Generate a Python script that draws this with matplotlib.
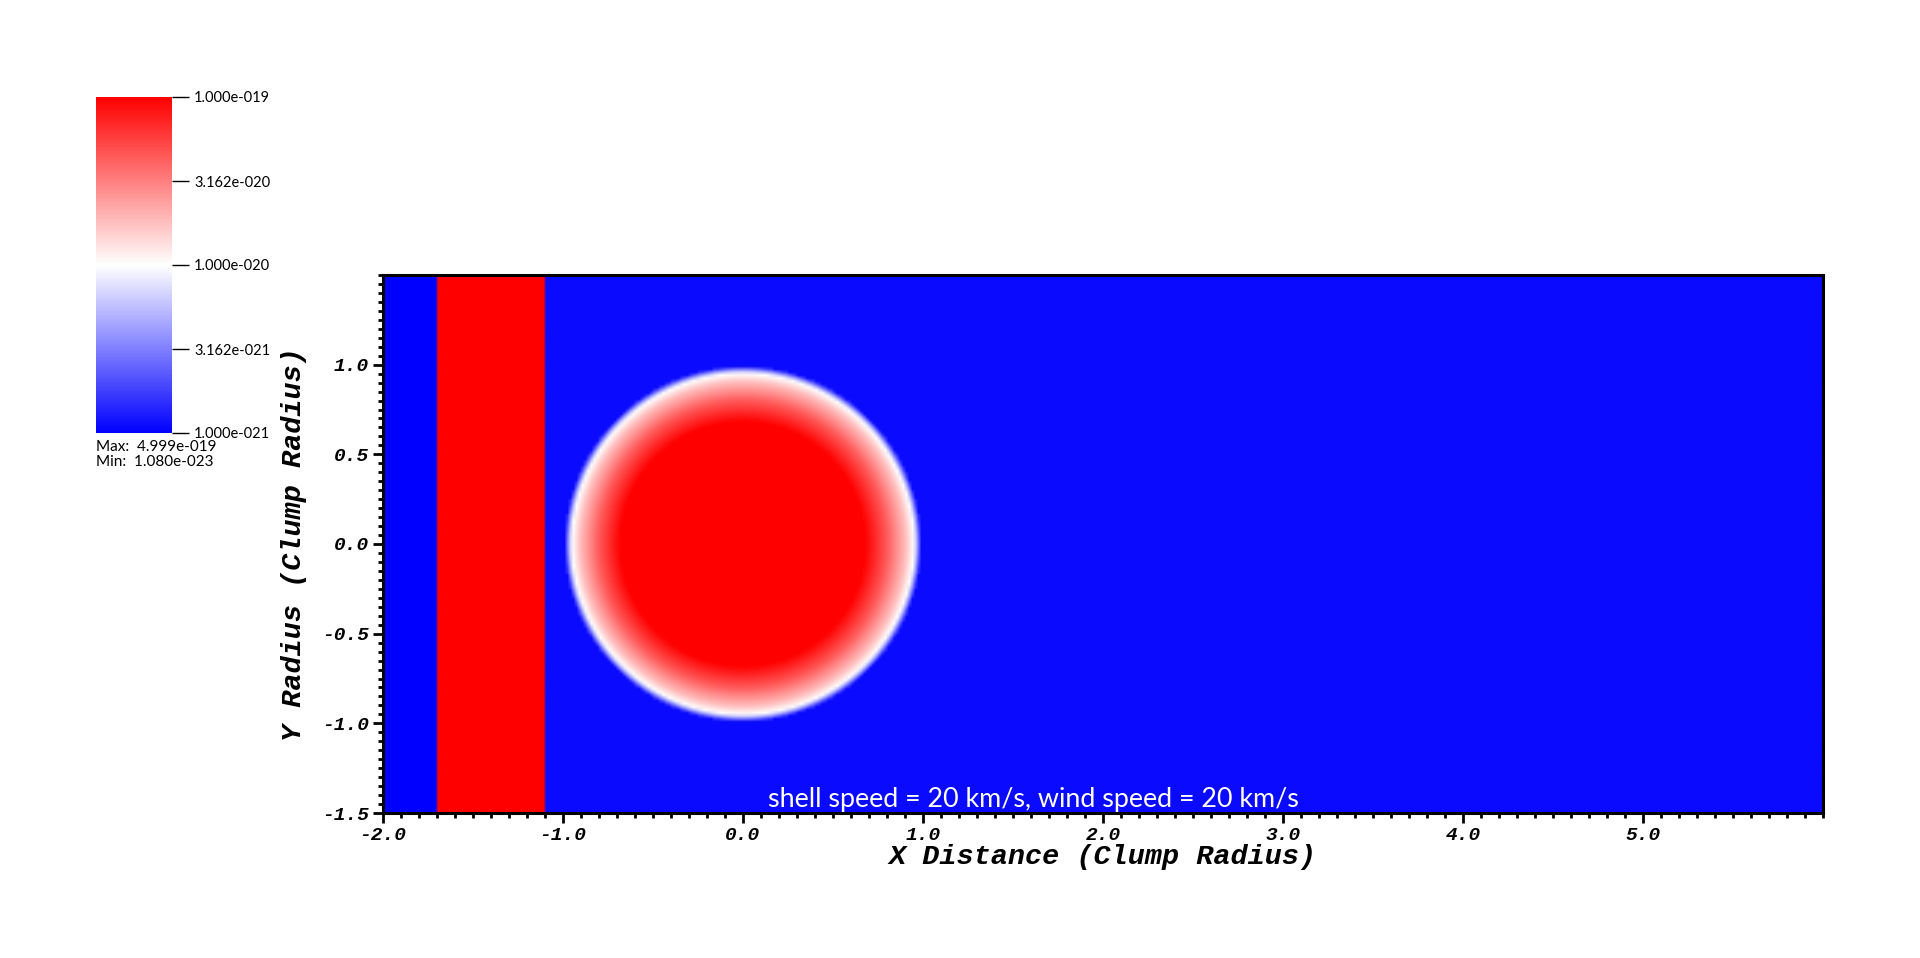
import numpy as np
import matplotlib
matplotlib.use("Agg")
import matplotlib.pyplot as plt
from matplotlib.colors import LinearSegmentedColormap, LogNorm
from matplotlib.ticker import MultipleLocator, FixedLocator, FixedFormatter

# ---------------- data ----------------
x_limits = [-2.0, 6.0]
y_limits = [-1.5, 1.5]
x_ticks = [-2.0, -1.0, 0.0, 1.0, 2.0, 3.0, 4.0, 5.0]
y_ticks = [-1.5, -1.0, -0.5, 0.0, 0.5, 1.0]
shell_edges = [-1.7, -1.1]            # shell slab x-extent (clump radii)
shell_density = 2.0e-19
upstream_density = 5.0e-23            # left of the shell
ambient_density = 1.1e-21             # wind / ambient medium
clump_center = [0.0, 0.0]
clump_r = [0.0, 0.68, 0.80, 0.905, 0.95, 0.97, 0.985]
clump_logrho = [-18.7, -19.0, -19.35, -19.75, -20.0, -20.4, -20.8]
clump_edge = 0.99
cbar_ticks = [1e-21, 3.162e-21, 1e-20, 3.162e-20, 1e-19]
cbar_labels = ["1.000e-021", "3.162e-021", "1.000e-020", "3.162e-020", "1.000e-019"]
data_max = "4.999e-019"
data_min = "1.080e-023"
annotation = "shell speed = 20 km/s, wind speed = 20 km/s"

# ---------------- build the density field ----------------
nx, ny = 480, 180
xe = np.linspace(x_limits[0], x_limits[1], nx + 1)
ye = np.linspace(y_limits[0], y_limits[1], ny + 1)
xc = 0.5 * (xe[:-1] + xe[1:])
yc = 0.5 * (ye[:-1] + ye[1:])
X, Y = np.meshgrid(xc, yc)
rho = np.full(X.shape, ambient_density)
rho[X < shell_edges[0]] = upstream_density
rho[(X >= shell_edges[0]) & (X < shell_edges[1])] = shell_density
R = np.hypot(X - clump_center[0], Y - clump_center[1])
inside = R < clump_edge
rho[inside] = 10.0 ** np.interp(R[inside], clump_r, clump_logrho)

cmap = LinearSegmentedColormap.from_list("bwr_visit", [(0, 0, 1), (1, 1, 1), (1, 0, 0)])
norm = LogNorm(vmin=1e-21, vmax=1e-19)

# ---------------- figure ----------------
fig = plt.figure(figsize=(19.2, 9.58), dpi=100)
ax = fig.add_axes([383 / 1920, 1 - 813 / 958, 1440 / 1920, 538 / 958])
ax.imshow(rho, cmap=cmap, norm=norm, origin="lower", interpolation="bilinear",
          extent=[x_limits[0], x_limits[1], y_limits[0], y_limits[1]], aspect="auto")
ax.set_xlim(x_limits)
ax.set_ylim(y_limits)

ax.xaxis.set_major_locator(FixedLocator(x_ticks))
ax.xaxis.set_major_formatter(FixedFormatter([f"{v:.1f}" for v in x_ticks]))
ax.yaxis.set_major_locator(FixedLocator(y_ticks))
ax.yaxis.set_major_formatter(FixedFormatter([f"{v:.1f}" for v in y_ticks]))
ax.xaxis.set_minor_locator(MultipleLocator(0.1))
ax.yaxis.set_minor_locator(MultipleLocator(0.05))
for lab in ax.get_xticklabels() + ax.get_yticklabels():
    lab.set_fontfamily("Liberation Mono")
    lab.set_fontweight("bold")
    lab.set_fontstyle("italic")
    lab.set_fontsize(14)
ax.tick_params(which="major", direction="out", length=7, width=2, pad=3, colors="black")
ax.tick_params(which="minor", direction="out", length=3.5, width=2)
ax.tick_params(top=False, right=False)
for s in ax.spines.values():
    s.set_linewidth(2.2)

labfont = dict(family="Liberation Mono", weight="bold", style="italic", size=20.5)
ax.set_xlabel("X Distance (Clump Radius)", **labfont)
ax.set_ylabel("Y Radius (Clump Radius)", **labfont)
ax.xaxis.set_label_coords(0.5, (813 - 857) / 538)
ax.xaxis.label.set_va("center")
ax.yaxis.set_label_coords((294 - 383) / 1440, 0.5)
ax.yaxis.label.set_va("center")

ax.text((1033 - 383) / 1440, (813 - 800) / 538, annotation, transform=ax.transAxes,
        ha="center", va="center", color="white", family="Lato", fontsize=19.4)

# ---------------- colorbar ----------------
cax = fig.add_axes([96 / 1920, 1 - 433 / 958, 76 / 1920, 336 / 958])
sm = plt.cm.ScalarMappable(cmap=cmap, norm=norm)
cb = fig.colorbar(sm, cax=cax)
cb.outline.set_visible(False)
cb.set_ticks(cbar_ticks)
cb.set_ticklabels(cbar_labels)
cb.ax.minorticks_off()
cb.ax.tick_params(length=12, width=1, pad=4, labelsize=10.5)
for lab in cb.ax.get_yticklabels():
    lab.set_fontfamily("Lato")
fig.text(96 / 1920, 1 - 447 / 958, f"Max:  {data_max}", family="Lato", fontsize=11,
         ha="left", va="center")
fig.text(96 / 1920, 1 - 462 / 958, f"Min:  {data_min}", family="Lato", fontsize=11,
         ha="left", va="center")

fig.savefig("out.png", dpi=100)
